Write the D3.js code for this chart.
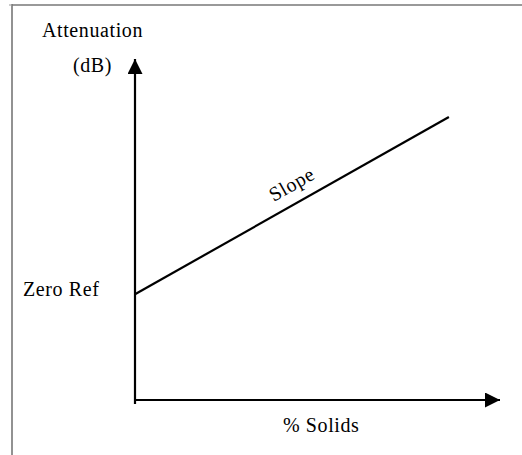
<!DOCTYPE html>
<html><head><meta charset="utf-8">
<script src="https://cdn.jsdelivr.net/npm/d3@7"></script>
<style>
html,body{margin:0;padding:0;background:#fff;}
</style></head>
<body>
<script>
// Data
const xDomain = [0, 100];
const yDomain = [0, 100];
const lineX = [0, 86];      // % Solids (relative)
const lineY = [31, 83];     // Attenuation (relative)
const labels = {yTitle: "Attenuation", yUnit: "(dB)", zero: "Zero Ref", xTitle: "% Solids", slope: "Slope"};

const W = 522, H = 455;
const FONT = "'Liberation Serif', 'Times New Roman', Times, serif";
const svg = d3.select("body").append("svg").attr("width", W).attr("height", H);

const x = d3.scaleLinear().domain(xDomain).range([135, 500]);
const y = d3.scaleLinear().domain(yDomain).range([400, 59]);

const defs = svg.append("defs");
defs.append("marker").attr("id","arr").attr("viewBox","0 0 10 10")
  .attr("refX",10).attr("refY",5).attr("markerWidth",15).attr("markerHeight",15)
  .attr("markerUnits","userSpaceOnUse").attr("orient","auto")
  .append("path").attr("d","M0,0L10,5L0,10Z").attr("fill","#000");

// frame
svg.append("line").attr("x1",12).attr("x2",12).attr("y1",4).attr("y2",H).attr("stroke","#777").attr("stroke-width",1.6);
svg.append("line").attr("x1",12).attr("x2",W).attr("y1",5).attr("y2",5).attr("stroke","#777").attr("stroke-width",1.6);
svg.append("line").attr("x1",9).attr("x2",12).attr("y1",5).attr("y2",5).attr("stroke","#999").attr("stroke-width",1);

// axes
svg.append("line").attr("x1",x(0)).attr("x2",x(0)).attr("y1",y(0)+4).attr("y2",y(yDomain[1]))
  .attr("stroke","#000").attr("stroke-width",2.2).attr("marker-end","url(#arr)");
svg.append("line").attr("x1",x(0)).attr("x2",x(xDomain[1])).attr("y1",y(0)).attr("y2",y(0))
  .attr("stroke","#000").attr("stroke-width",2.2).attr("marker-end","url(#arr)");

// slope line
const pts = lineX.map((v,i)=>[v, lineY[i]]);
svg.append("path").datum(pts)
  .attr("d", d3.line().x(d=>x(d[0])).y(d=>y(d[1])))
  .attr("fill","none").attr("stroke","#000").attr("stroke-width",2.2);

// labels
function label(xp, yp, t){
  return svg.append("text").attr("x",xp).attr("y",yp)
    .attr("font-family",FONT).attr("font-size",20).attr("letter-spacing","0.6px")
    .attr("fill","#000").text(t);
}
label(42,37,labels.yTitle);
label(73,72,labels.yUnit);
label(23,296,labels.zero);
label(283,432,labels.xTitle);

const ang = Math.atan2(y(lineY[1])-y(lineY[0]), x(lineX[1])-x(lineX[0]))*180/Math.PI;
label(0,0,labels.slope).attr("transform",`translate(295,190) rotate(${ang})`)
  .attr("text-anchor","middle");
</script>
</body></html>
